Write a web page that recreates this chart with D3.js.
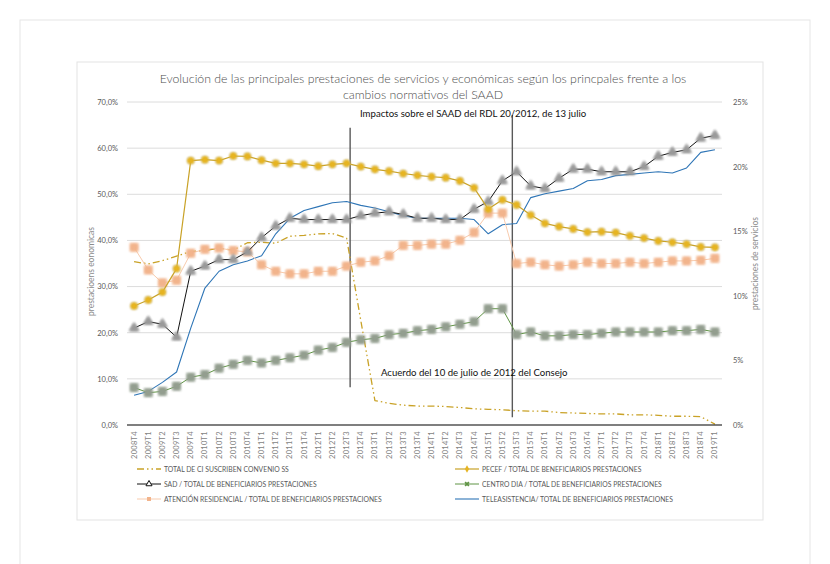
<!DOCTYPE html>
<html>
<head>
<meta charset="utf-8">
<script src="https://cdn.jsdelivr.net/npm/d3@7"></script>
<style>
  body { margin: 0; background: #fff; }
  text { font-family: Lato, "Liberation Sans", sans-serif; }
</style>
</head>
<body>
<div id="chart"></div>
<script>
  // Quarters on the x axis.
  const categories = [
    '2008T4',
    '2009T1', '2009T2', '2009T3', '2009T4',
    '2010T1', '2010T2', '2010T3', '2010T4',
    '2011T1', '2011T2', '2011T3', '2011T4',
    '2012T1', '2012T2', '2012T3', '2012T4',
    '2013T1', '2013T2', '2013T3', '2013T4',
    '2014T1', '2014T2', '2014T3', '2014T4',
    '2015T1', '2015T2', '2015T3', '2015T4',
    '2016T1', '2016T2', '2016T3', '2016T4',
    '2017T1', '2017T2', '2017T3', '2017T4',
    '2018T1', '2018T2', '2018T3', '2018T4',
    '2019T1'
  ];

  // Left axis (prestaciones economicas), percent.
  const convenioCI = [35.4, 34.9, 35.6, 36.6, 37.6, 37.8, 38.3, 37.9, 39.5, 39.6, 39.4, 40.9, 41.1, 41.4, 41.5, 40.5,
    22.7, 5.3, 4.7, 4.3, 4.1, 4.1, 4.0, 3.8, 3.5, 3.4, 3.3, 3.1, 3.0, 3.0, 2.7, 2.6, 2.5, 2.4, 2.4, 2.2, 2.2, 2.1, 1.9, 1.9, 1.8, 0.2];
  const pecef = [25.8, 27.1, 28.8, 33.9, 57.3, 57.5, 57.3, 58.3, 58.2, 57.4, 56.7, 56.7, 56.5, 56.1, 56.5, 56.7,
    56.0, 55.4, 55.0, 54.5, 54.1, 53.8, 53.6, 52.9, 51.4, 46.8, 48.8, 47.7, 45.5, 43.7, 43.0, 42.5, 41.8, 41.9, 41.7, 41.0, 40.5, 39.9, 39.6, 39.2, 38.6, 38.5];

  // Right axis (prestaciones de servicios), percent.
  const sad = [7.5, 8.0, 7.8, 6.8, 11.9, 12.3, 12.8, 12.8, 13.4, 14.5, 15.4, 16.0, 15.9, 15.9, 15.9, 15.9,
    16.2, 16.4, 16.5, 16.3, 16.0, 16.0, 15.9, 15.9, 16.7, 17.3, 18.9, 19.6, 18.5, 18.3, 19.1, 19.8, 19.8, 19.6, 19.6, 19.6, 20.0, 20.8, 21.1, 21.3, 22.2, 22.4];
  const centroDia = [2.9, 2.5, 2.6, 3.0, 3.7, 3.9, 4.4, 4.7, 5.0, 4.8, 5.0, 5.2, 5.4, 5.8, 6.0, 6.4,
    6.6, 6.7, 7.0, 7.1, 7.3, 7.4, 7.6, 7.8, 8.0, 9.0, 9.0, 7.0, 7.2, 6.9, 6.9, 7.0, 7.0, 7.1, 7.2, 7.2, 7.2, 7.2, 7.3, 7.3, 7.4, 7.2];
  const residencial = [13.75, 12.0, 11.0, 11.2, 13.3, 13.6, 13.7, 13.5, 13.4, 12.4, 11.9, 11.7, 11.7, 11.9, 11.9, 12.3,
    12.6, 12.7, 13.1, 13.9, 13.9, 14.0, 14.0, 14.3, 14.9, 16.4, 16.4, 12.5, 12.6, 12.4, 12.3, 12.4, 12.6, 12.5, 12.5, 12.6, 12.5, 12.6, 12.7, 12.7, 12.75, 12.9];
  const teleasistencia = [2.3, 2.6, 3.3, 4.1, 7.5, 10.6, 11.9, 12.4, 12.7, 13.1, 14.8, 16.0, 16.6, 16.9, 17.2, 17.3,
    17.0, 16.8, 16.5, 16.2, 16.0, 16.0, 16.0, 16.0, 15.9, 14.8, 15.5, 15.6, 17.6, 17.9, 18.1, 18.3, 18.9, 19.0, 19.3, 19.4, 19.5, 19.6, 19.5, 19.9, 21.1, 21.3];

  const leftTicks = [0, 10, 20, 30, 40, 50, 60, 70];
  const rightTicks = [0, 5, 10, 15, 20, 25];

  const title = [
    'Evolución de las principales prestaciones de servicios y económicas según los princpales frente a los',
    'cambios normativos del  SAAD'
  ];

  const series = [
    { name: 'TOTAL DE CI SUSCRIBEN CONVENIO SS', data: convenioCI, axis: 'left', color: '#c9a227', width: 1.3, dash: '7,3,1.5,3,1.5,3', marker: null },
    { name: 'PECEF / TOTAL DE BENEFICIARIOS PRESTACIONES', data: pecef, axis: 'left', color: '#c9a227', width: 1.2, marker: 'circle', fill: '#e6b422' },
    { name: 'SAD / TOTAL DE BENEFICIARIOS PRESTACIONES', data: sad, axis: 'right', color: '#111', width: 1, marker: 'triangle', fill: '#9a9a9a' },
    { name: 'CENTRO DIA / TOTAL DE BENEFICIARIOS PRESTACIONES', data: centroDia, axis: 'right', color: '#5f9444', width: 1, marker: 'square', fill: '#939e8f' },
    { name: 'ATENCIÓN RESIDENCIAL / TOTAL DE BENEFICIARIOS PRESTACIONES', data: residencial, axis: 'right', color: '#f8cbad', width: 1, marker: 'square', fill: '#f2b48c' },
    { name: 'TELEASISTENCIA/ TOTAL DE BENEFICIARIOS PRESTACIONES', data: teleasistencia, axis: 'right', color: '#2e75b6', width: 1.1, marker: null }
  ];

  const W = 830, H = 564;
  const plot = { left: 127, right: 722, top: 102, bottom: 425 };

  const svg = d3.select('#chart').append('svg')
    .attr('width', W)
    .attr('height', H);

  // Soft halo behind the markers.
  const filter = svg.append('defs').append('filter')
    .attr('id', 'glow')
    .attr('x', '-60%').attr('y', '-60%')
    .attr('width', '220%').attr('height', '220%');
  filter.append('feGaussianBlur').attr('in', 'SourceGraphic').attr('stdDeviation', 1.1).attr('result', 'b');
  const merge = filter.append('feMerge');
  merge.append('feMergeNode').attr('in', 'b');
  merge.append('feMergeNode').attr('in', 'b');

  // Page card and chart frame.
  svg.append('rect')
    .attr('x', 20).attr('y', 20).attr('width', 790).attr('height', 560)
    .attr('fill', 'none').attr('stroke', '#e6e6e6');
  svg.append('rect')
    .attr('x', 77).attr('y', 62).attr('width', 686).attr('height', 458)
    .attr('fill', 'none').attr('stroke', '#e3e3e3');

  const x = d3.scaleBand()
    .domain(categories)
    .range([plot.left, plot.right]);
  const cx = (d, i) => x(categories[i]) + x.bandwidth() / 2;

  const yL = d3.scaleLinear().domain([0, 70]).range([plot.bottom, plot.top]);
  const yR = d3.scaleLinear().domain([0, 25]).range([plot.bottom, plot.top]);

  // Gridlines.
  svg.append('g')
    .selectAll('line')
    .data(leftTicks.slice(1))
    .enter().append('line')
    .attr('x1', plot.left).attr('x2', plot.right)
    .attr('y1', d => yL(d)).attr('y2', d => yL(d))
    .attr('stroke', '#dcdcdc').attr('stroke-width', 1);

  // Left axis.
  const leftAxis = svg.append('g')
    .attr('transform', `translate(${plot.left - 6},0)`)
    .call(d3.axisLeft(yL).tickValues(leftTicks).tickSize(0).tickFormat(d => d3.format('.1f')(d).replace('.', ',') + '%'));
  leftAxis.select('.domain').remove();

  // Right axis.
  const rightAxis = svg.append('g')
    .attr('transform', `translate(${plot.right + 8},0)`)
    .call(d3.axisRight(yR).tickValues(rightTicks).tickSize(0).tickFormat(d => d + '%'));
  rightAxis.select('.domain').remove();

  svg.selectAll('.tick text')
    .attr('fill', '#595959')
    .style('font-size', '7.5px');

  // Category labels, rotated.
  svg.append('g')
    .selectAll('text')
    .data(categories)
    .enter().append('text')
    .attr('transform', (d, i) => `translate(${cx(d, i) + 2.5},${plot.bottom + 6}) rotate(-90)`)
    .attr('text-anchor', 'end')
    .attr('fill', '#7f7f7f')
    .style('font-size', '7.5px')
    .style('letter-spacing', '0.3px')
    .text(d => d);

  // Axis titles.
  svg.append('text')
    .attr('transform', `translate(94,${(plot.top + plot.bottom) / 2 + 8}) rotate(-90)`)
    .attr('text-anchor', 'middle')
    .attr('fill', '#8c8c8c')
    .style('font-size', '8.5px')
    .text('prestacioens  eonomicas');
  svg.append('text')
    .attr('transform', `translate(758,${(plot.top + plot.bottom) / 2}) rotate(-90)`)
    .attr('text-anchor', 'middle')
    .attr('fill', '#8c8c8c')
    .style('font-size', '8.5px')
    .text('prestaciones  de servicios');

  // Title.
  svg.append('g')
    .selectAll('text')
    .data(title)
    .enter().append('text')
    .attr('x', 423)
    .attr('y', (d, i) => 83 + i * 16)
    .attr('text-anchor', 'middle')
    .attr('fill', '#4d4d4d')
    .style('font-size', '12.3px')
    .style('font-weight', 300)
    .text(d => d);

  // Annotation lines and labels.
  const annoteLines = [
    { cat: 15, off: 0.75, from: 64.4, to: 8.2 },
    { cat: 27, off: 0.2, from: 67.2, to: 1.7 }
  ];
  svg.append('g')
    .selectAll('line')
    .data(annoteLines)
    .enter().append('line')
    .attr('x1', d => x(categories[d.cat]) + x.bandwidth() * d.off)
    .attr('x2', d => x(categories[d.cat]) + x.bandwidth() * d.off)
    .attr('y1', d => yL(d.from)).attr('y2', d => yL(d.to))
    .attr('stroke', '#595959').attr('stroke-width', 1.4);

  const draw = (s) => {
    const y = s.axis == 'left' ? yL : yR;
    const line = d3.line()
      .x(cx)
      .y(d => y(d));

    svg.append('path')
      .datum(s.data)
      .attr('fill', 'none')
      .attr('stroke', s.color)
      .attr('stroke-width', s.width)
      .attr('stroke-dasharray', s.dash ? s.dash : null)
      .attr('stroke-linejoin', 'round')
      .attr('d', line);

    if (!s.marker) return;
    const g = svg.append('g');
    const pts = g.selectAll('g')
      .data(s.data)
      .enter().append('g')
      .attr('transform', (d, i) => `translate(${cx(d, i)},${y(d)})`);
    const shape = s.marker == 'circle' ? d3.symbolCircle : s.marker == 'triangle' ? d3.symbolTriangle : d3.symbolSquare;
    const size = s.marker == 'circle' ? 26 : s.marker == 'triangle' ? 30 : 42;
    pts.append('path')
      .attr('d', d3.symbol().type(shape).size(size * 1.8))
      .attr('fill', s.marker == 'circle' ? '#c9b77a' : s.fill)
      .attr('opacity', 0.5)
      .attr('filter', 'url(#glow)');
    pts.append('path')
      .attr('d', d3.symbol().type(shape).size(size))
      .attr('fill', s.fill)
      .attr('filter', 'url(#glow)');
  };

  // Draw order matches the overlapping in the original.
  [series[0], series[5], series[4], series[3], series[2], series[1]].forEach(draw);

  // Baseline.
  svg.append('line')
    .attr('x1', plot.left).attr('x2', plot.right)
    .attr('y1', plot.bottom).attr('y2', plot.bottom)
    .attr('stroke', '#000').attr('stroke-width', 1.2);

  svg.append('text')
    .attr('x', 360).attr('y', 117)
    .attr('fill', '#111')
    .style('font-size', '9.6px')
    .text('Impactos sobre el SAAD del RDL 20/2012, de 13 julio');
  svg.append('text')
    .attr('x', 381).attr('y', 376)
    .attr('fill', '#111')
    .style('font-size', '9.6px')
    .text('Acuerdo del 10 de julio de 2012 del Consejo');

  // Legend.
  const legendPos = [
    { x: 137, y: 469 }, { x: 455, y: 469 },
    { x: 137, y: 484 }, { x: 455, y: 484 },
    { x: 137, y: 499 }, { x: 455, y: 499 }
  ];
  const legend = svg.append('g')
    .selectAll('g')
    .data(series)
    .enter().append('g')
    .attr('transform', (d, i) => `translate(${legendPos[i].x},${legendPos[i].y})`);
  legend.append('line')
    .attr('x1', 0).attr('x2', 24)
    .attr('stroke', d => d.color)
    .attr('stroke-width', d => d.width)
    .attr('stroke-dasharray', d => d.dash ? d.dash : null);
  legend.filter(d => d.marker)
    .append('path')
    .attr('d', d => d3.symbol()
      .type(d.name.startsWith('CENTRO') ? d3.symbolCross : d.marker == 'circle' ? d3.symbolDiamond : d.marker == 'triangle' ? d3.symbolTriangle : d3.symbolSquare)
      .size(16)())
    .attr('fill', d => d.marker == 'circle' ? d.fill : d.name.startsWith('CENTRO') ? d.color : d.marker == 'triangle' ? '#fff' : d.fill)
    .attr('stroke', d => d.marker == 'triangle' ? '#111' : 'none')
    .attr('transform', d => d.name.startsWith('CENTRO') ? 'translate(12,0) rotate(45)' : 'translate(12,0)');
  legend.append('text')
    .attr('x', 27).attr('y', 2.5)
    .attr('fill', '#595959')
    .style('font-size', '6.8px')
    .text(d => d.name);
</script>
</body>
</html>
